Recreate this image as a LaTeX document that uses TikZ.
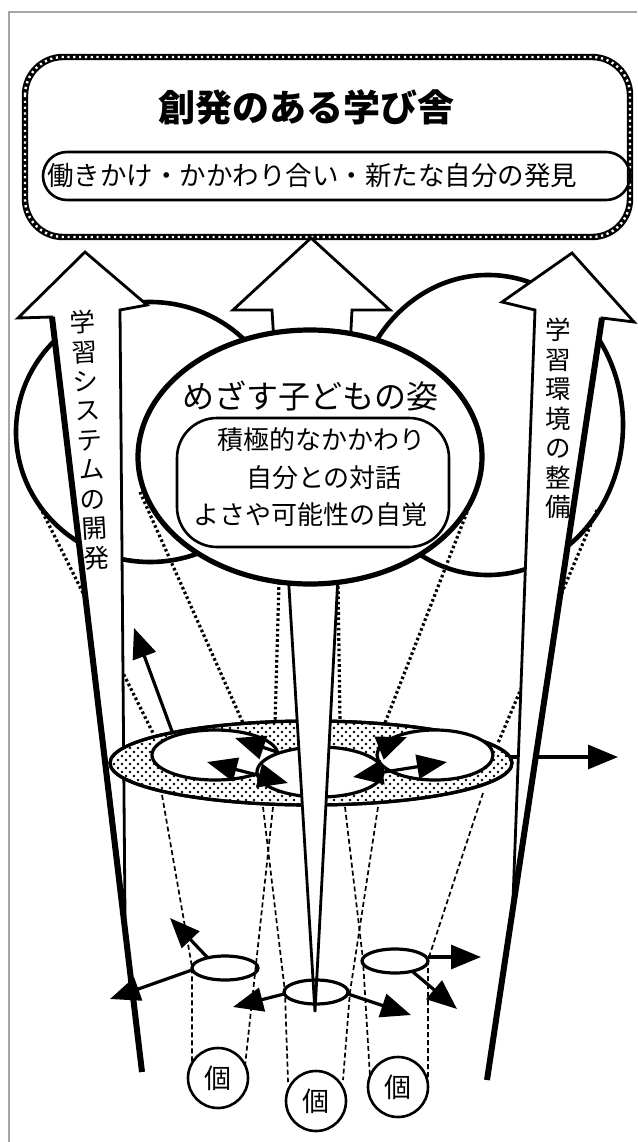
\documentclass[tikz,border=0pt]{standalone}
\usepackage{fontspec}
\newfontfamily\jp{Noto Sans CJK JP}
\usetikzlibrary{arrows.meta,patterns}
\pgfdeclarepatternformonly{ringdots}{\pgfpoint{-1pt}{-1pt}}{\pgfpoint{9pt}{9pt}}{\pgfpoint{8pt}{8pt}}{%
  \pgfpathcircle{\pgfpoint{2pt}{2pt}}{1.3pt}%
  \pgfpathcircle{\pgfpoint{6pt}{6pt}}{1.3pt}%
  \pgfusepath{fill}}
\tikzset{
  thickout/.style={line width=4.6pt, fill=white},
  bigarrow/.style={line width=2.8pt, fill=white, line join=miter},
  updot/.style={line width=3.2pt, dash pattern=on 2.6pt off 2.6pt},
  lowdash/.style={line width=1.7pt, dash pattern=on 5pt off 3pt},
  tipA/.style={-{Triangle[length=30pt,width=24pt]}},
  ringarrow/.style={line width=3.2pt, tipA},
  dblarrow/.style={line width=3.2pt, {Triangle[length=30pt,width=24pt]}-{Triangle[length=30pt,width=24pt]}},
  smallell/.style={line width=3.2pt},
  kocircle/.style={circle, draw, line width=2.6pt, minimum size=60pt, inner sep=0pt, font=\jp\fontsize{27}{29}\selectfont},
}
\begin{document}
\begin{tikzpicture}[x=1pt,y=-1pt]
\useasboundingbox (0,0) rectangle (637,1142);
\fill[white] (0,0) rectangle (637,1142);
% page frame lines
\draw[gray!70, line width=1.2pt] (9,1142) -- (9,12) -- (637,12);

% top box with chain border
\draw[line width=6.4pt, rounded corners=38pt] (25,57) rectangle (630,237);
\draw[white, line width=2.4pt, dash pattern=on 2.2pt off 3.6pt, rounded corners=38pt] (25,57) rectangle (630,237);
\node[font=\jp\bfseries\fontsize{37}{40}\selectfont] (title) at (306,107) {創発のある学び舎};
\draw[line width=2.6pt, rounded corners=24pt] (43,152) rectangle (630,200);
\node[font=\jp\fontsize{26.5}{30}\selectfont] (subtitle) at (312,175) {働きかけ・かかわり合い・新たな自分の発見};

% back circles
\draw[thickout] (150,432) ellipse [x radius=134, y radius=130];
\draw[thickout] (488,425) ellipse [x radius=135, y radius=150];

% upper dotted lines
\draw[updot] (40,507) -- (153,733);
\draw[updot] (140,492) -- (243,723);
\draw[updot] (279,582) -- (275,723);
\draw[updot] (338,581) -- (340,723);
\draw[updot] (469,507) -- (385,723);
\draw[updot] (597,510) -- (498,743);

% lower dashed lines
\draw[lowdash] (162,795) -- (192,967) -- (192,1062);
\draw[lowdash] (273,807) -- (245,1066);
\draw[lowdash] (263,807) -- (285,992) -- (288,1082);
\draw[lowdash] (345,807) -- (363,960) -- (370,1077);
\draw[lowdash] (378,807) -- (350,992) -- (343,1080);
\draw[lowdash] (483,793) -- (428,960) -- (428,1077);

% arrow out of ring to the right (behind right shaft)
\draw[ringarrow] (510,757) -- (618,757);

% left big arrow
\draw[bigarrow] (85,252) -- (147,305) -- (120,310) -- (125,917) -- (52,317) -- (18,318) -- cycle;
\draw[line width=6pt] (52,317) -- (142,1072);
\node[font=\jp\fontsize{25.5}{29.5}\selectfont, align=center, rotate=3.4, inner sep=0pt] (lefttext) at (89.5,440)
  {学\\習\\シ\\ス\\テ\\ム\\の\\開\\発};

% right big arrow
\draw[bigarrow] (572,253) -- (634,322) -- (602,318) -- (513,900) -- (535,310) -- (502,302) -- cycle;
\draw[line width=6pt] (602,318) -- (487,1080);
\node[font=\jp\fontsize{25.5}{29.5}\selectfont, align=center, inner sep=0pt] (righttext) at (558,418.5)
  {学\\習\\環\\境\\の\\整\\備};

% dotted ring
\draw[line width=3.2pt, fill=white] (311,763) ellipse [x radius=201, y radius=42];
\fill[pattern=ringdots] (311,763) ellipse [x radius=200, y radius=41];
\draw[line width=3.2pt] (311,763) ellipse [x radius=201, y radius=42];
\draw[line width=3.2pt, fill=white] (215,755) ellipse [x radius=63, y radius=25];
\draw[line width=3.2pt, fill=white] (435,755) ellipse [x radius=58, y radius=25];
\draw[line width=3.2pt, fill=white] (320,772) ellipse [x radius=63, y radius=25];

% arrows around the ring
\draw[ringarrow] (173,734) -- (134,628);
\draw[dblarrow] (207,762) -- (288,783);
\draw[dblarrow] (353,777) -- (447,762);
\draw[ringarrow] (277,752) -- (235,738);
\draw[ringarrow] (377,749) -- (407,737);

% central arrow (long tapering shaft)
\draw[bigarrow] (311,238) -- (390,310) -- (352,310) -- (315,1012) -- (272,310) -- (233,310) -- cycle;

% centre circle
\draw[line width=5.2pt, fill=white] (310,457) ellipse [x radius=172, y radius=127];
\draw[line width=2.6pt, rounded corners=40pt] (177,418) rectangle (449,547);
\node[font=\jp\fontsize{32}{34}\selectfont] (goal) at (310,396) {めざす子どもの姿};
\node[font=\jp\fontsize{26}{30}\selectfont] (g1) at (321,440) {積極的なかかわり};
\node[font=\jp\fontsize{26}{30}\selectfont] (g2) at (324,478) {自分との対話};
\node[font=\jp\fontsize{26}{30}\selectfont] (g3) at (310,515) {よさや可能性の自覚};

% small ellipses
\draw[smallell] (225,968) ellipse [x radius=33, y radius=12];
\draw[smallell] (316,992) ellipse [x radius=32, y radius=12];
\draw[smallell] (395,961) ellipse [x radius=33, y radius=12];

% arrows from small ellipses
\draw[ringarrow] (207,957) -- (170,918);
\draw[ringarrow] (192,970) -- (110,999);
\draw[ringarrow] (284,994) -- (233,1007);
\draw[ringarrow] (348,994) -- (411,1015);
\draw[ringarrow] (428,957) -- (481,957);
\draw[ringarrow] (413,972) -- (457,1009);

% individual circles
\node[kocircle] (ko1) at (218,1078) {個};
\node[kocircle] (ko2) at (316,1101) {個};
\node[kocircle] (ko3) at (398,1087) {個};
\end{tikzpicture}
\end{document}
